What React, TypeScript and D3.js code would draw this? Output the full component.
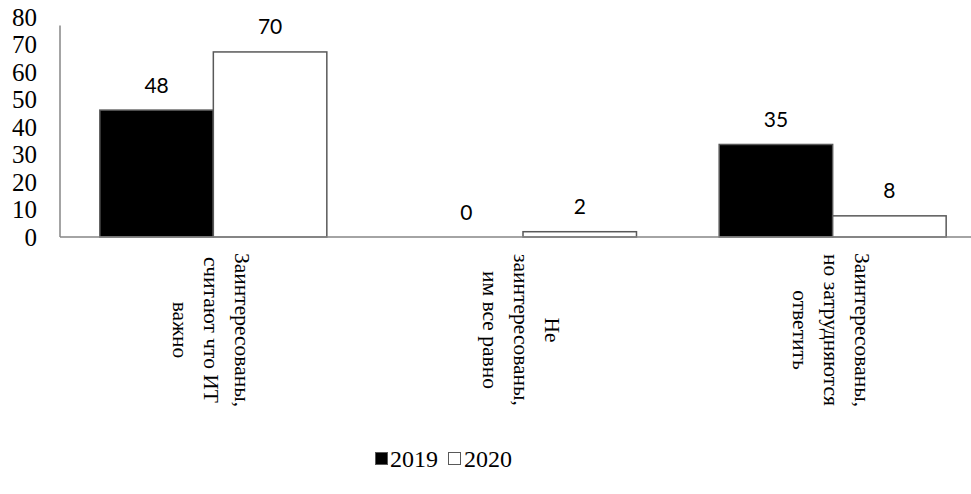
import React from "react";
import * as d3 from "d3";

const categories = ["cat1", "cat2", "cat3"];
const categoryLines = [
  ["Заинтересованы,", "считают что ИТ", "важно"],
  ["Не", "заинтересованы,", "им все равно"],
  ["Заинтересованы,", "но затрудняются", "ответить"],
];
const seriesNames = ["2019", "2020"];
const values2019 = [48, 0, 35];
const values2020 = [70, 2, 8];
const yTicks = [0, 10, 20, 30, 40, 50, 60, 70, 80];

const W = 971;
const H = 494;

export default function App() {
  const x = d3.scaleBand<string>().domain(categories).range([58.5, 987.5]).paddingInner(0.267).paddingOuter(0.1335);
  const xs = d3.scaleBand<string>().domain(seriesNames).range([0, x.bandwidth()]);
  const y = d3.scaleLinear().domain([0, 80]).range([237, 25.5]);
  const yLabel = d3.scaleLinear().domain([0, 80]).range([237, 17]);
  const seriesValues = [values2019, values2020];
  const fills = ["#000000", "#ffffff"];
  const serif = "'Liberation Serif', 'Times New Roman', serif";
  const sans = "Lato, 'Open Sans', sans-serif";
  const lineGap = 31;

  return (
    <svg width={W} height={H} style={{ position: "absolute", left: 0, top: 0, background: "#fff" }}>
      {yTicks.map((t) => (
        <text key={t} x={37} y={yLabel(t)} textAnchor="end" dominantBaseline="central" fontFamily={serif} fontSize={25} fill="#000">
          {t}
        </text>
      ))}
      {categories.map((c, ci) =>
        seriesNames.map((s, si) => {
          const v = seriesValues[si][ci];
          const bx = (x(c) as number) + (xs(s) as number);
          return (
            <g key={c + s}>
              {v > 0 && (
                <rect x={bx} y={y(v)} width={xs.bandwidth()} height={y(0) - y(v)} fill={fills[si]} stroke="#595959" strokeWidth={1.5} />
              )}
              <text x={bx + xs.bandwidth() / 2} y={y(v) - 26} textAnchor="middle" dominantBaseline="central" fontFamily={sans} fontSize={21} fill="#000">
                {v}
              </text>
            </g>
          );
        })
      )}
      <line x1={60} x2={60} y1={y(80)} y2={y(0)} stroke="#868686" strokeWidth={1.5} />
      <line x1={60} x2={W} y1={y(0)} y2={y(0)} stroke="#868686" strokeWidth={1.5} />
      {categories.map((c, ci) => {
        const cx = (x(c) as number) + x.bandwidth() / 2 - 2;
        const lines = categoryLines[ci];
        const n = lines.length;
        return (
          <g key={c} transform={`translate(${cx},330) rotate(90)`}>
            {lines.map((l, li) => (
              <text key={li} x={0} y={(li - (n - 1) / 2) * lineGap} textAnchor="middle" dominantBaseline="central" fontFamily={serif} fontSize={21.5} fill="#000">
                {l}
              </text>
            ))}
          </g>
        );
      })}
      <g fontFamily={serif} fontSize={24}>
        <rect x={375.5} y={452.5} width={12} height={12} fill="#000" stroke="#595959" strokeWidth={1} />
        <text x={390} y={459} dominantBaseline="central">2019</text>
        <rect x={448.5} y={452.5} width={12} height={12} fill="#fff" stroke="#595959" strokeWidth={1} />
        <text x={464} y={459} dominantBaseline="central">2020</text>
      </g>
    </svg>
  );
}
